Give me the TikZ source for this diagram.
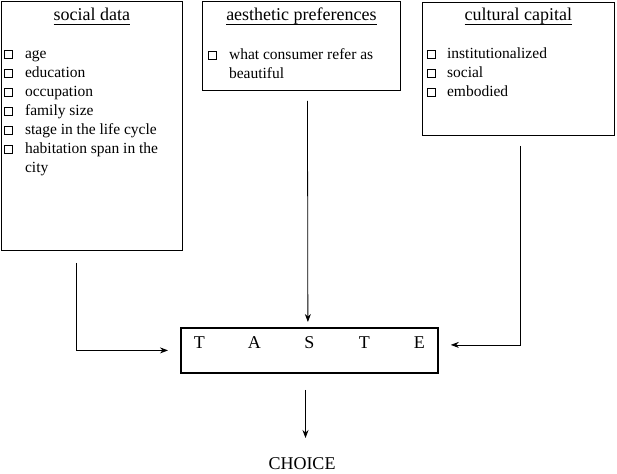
\documentclass[tikz,border=0pt]{standalone}
\usepackage{fontspec}
\setmainfont{Liberation Serif}
\usetikzlibrary{arrows.meta}
\newcommand{\cbx}{{\setlength{\fboxsep}{0pt}\setlength{\fboxrule}{0.7pt}\raisebox{0.6pt}{\fbox{\rule{0pt}{8pt}\rule{7.5pt}{0pt}}}}}
\newcommand{\itemfont}{\fontsize{15.5}{19}\selectfont}
\newcommand{\bigfont}{\fontsize{18}{22}\selectfont}
\newcommand{\spaced}[1]{\makebox[55pt]{#1}}

\tikzset{
  panel/.style={draw, line width=0.9pt, anchor=north west, inner sep=0pt},
  heading/.style={anchor=base, inner sep=0pt, font=\bigfont},
  items/.style={anchor=base west, inner sep=0pt, font=\itemfont},
  arr/.style={-{Stealth[length=8pt,width=6pt]}, line width=0.8pt},
}

\begin{document}
\begin{tikzpicture}[x=1pt, y=-1pt]
            \useasboundingbox (0,0) rectangle (617,473);

            % the three boxes
            \node[panel, minimum width=181pt, minimum height=249pt] (social) at (1,1) {};
            \node[panel, minimum width=198pt, minimum height=89pt] (aesthetic) at (202,1) {};
            \node[panel, minimum width=192pt, minimum height=133pt] (cultural) at (422,2) {};

            \node[heading] (socialT) at ([shift={(0,20)}]social.north) {social data};
            \node[heading] (aestheticT) at ([shift={(0,20)}]aesthetic.north) {aesthetic preferences};
            \node[heading] (culturalT) at ([shift={(0,19)}]cultural.north) {cultural capital};
            \foreach \t in {socialT, aestheticT, culturalT}
              \draw[line width=0.7pt] ([yshift=-3.5pt]\t.base west) -- ([yshift=-3.5pt]\t.base east);

            \node[items] (socialL) at ([shift={(3,58)}]social.north west) {%
              \begin{tabular}[t]{@{}l@{\hspace{12pt}}l@{}}
                \cbx & age\\
                \cbx & education\\
                \cbx & occupation\\
                \cbx & family size\\
                \cbx & stage in the life cycle\\
                \cbx & habitation span in the\\
                     & city
              \end{tabular}};
            \node[items] (aestheticL) at ([shift={(6,59)}]aesthetic.north west) {%
              \begin{tabular}[t]{@{}l@{\hspace{12pt}}l@{}}
                \cbx & what consumer refer as\\
                     & beautiful
              \end{tabular}};
            \node[items] (culturalL) at ([shift={(5,57)}]cultural.north west) {%
              \begin{tabular}[t]{@{}l@{\hspace{11pt}}l@{}}
                \cbx & institutionalized\\
                \cbx & social\\
                \cbx & embodied
              \end{tabular}};

            % taste and choice
            \node[panel, line width=1.8pt, minimum width=257pt, minimum height=45pt] (taste) at (180,327) {};
            \node[heading] (tasteW) at ([shift={(0,21)}]taste.north) {\spaced{T}\spaced{A}\spaced{S}\spaced{T}\spaced{E}};
            \node[heading] (choice) at (302,469) {CHOICE};
            \coordinate (choiceTop) at ([shift={(3.5,-31)}]choice.base);

            % arrows
            \draw[arr] ([shift={(-15.5,12)}]social.south) |- ([shift={(-12,0)}]taste.west);
            \draw[arr] ([shift={(6,10)}]aesthetic.south) -- ([shift={(-1.5,-5)}]taste.north);
            \draw[arr] ([shift={(2,10)}]cultural.south) |- ([shift={(12,-5.5)}]taste.east);
            \draw[arr, shorten <=16pt] (choiceTop |- taste.south) -- (choiceTop);
          \end{tikzpicture}
\end{document}
